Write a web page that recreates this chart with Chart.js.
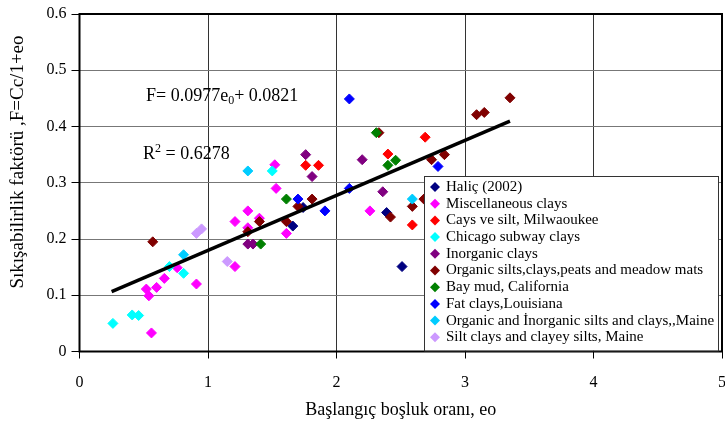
<!DOCTYPE html>
<html>
<head>
<meta charset="utf-8">
<script src="https://cdn.jsdelivr.net/npm/chart.js@4.4.1/dist/chart.umd.min.js"></script>
<style>
  html, body { margin: 0; padding: 0; background: #fff; }
  #wrap { width: 725px; height: 430px; }
</style>
</head>
<body>
<div id="wrap"><canvas id="eoChart" width="725" height="430"></canvas></div>
<script>
// [eo, F] pairs
const halic = [[1.66, 0.223], [1.74, 0.256], [2.39, 0.247], [2.51, 0.151]];
const miscClays = [[0.56, 0.033], [0.54, 0.099], [0.52, 0.111], [0.60, 0.114], [0.66, 0.130], [0.76, 0.149],
    [0.91, 0.120], [1.21, 0.151], [1.21, 0.231], [1.31, 0.220], [1.31, 0.250], [1.40, 0.237],
    [1.61, 0.210], [1.53, 0.290], [1.52, 0.332], [2.26, 0.250]];
const milwaukee = [[1.76, 0.331], [1.86, 0.331], [2.40, 0.351], [2.69, 0.381], [2.59, 0.225]];
const chicago = [[0.26, 0.050], [0.41, 0.065], [0.46, 0.064], [0.70, 0.151], [0.81, 0.139], [1.50, 0.321]];
const inorganic = [[1.31, 0.191], [1.35, 0.191], [1.76, 0.350], [1.81, 0.311], [2.20, 0.341], [2.36, 0.284]];
const organic = [[0.57, 0.195], [1.31, 0.213], [1.40, 0.231], [1.61, 0.231], [1.70, 0.258], [1.81, 0.271],
    [2.33, 0.389], [2.42, 0.239], [2.59, 0.258], [2.68, 0.271], [2.74, 0.341], [2.84, 0.350],
    [3.09, 0.421], [3.15, 0.425], [3.35, 0.451]];
const bayMud = [[1.41, 0.191], [1.61, 0.271], [2.31, 0.389], [2.40, 0.331], [2.46, 0.340]];
const fatClays = [[1.70, 0.271], [1.91, 0.250], [2.10, 0.290], [2.10, 0.449], [2.79, 0.329]];
const maineOrganic = [[0.81, 0.172], [1.31, 0.321], [2.59, 0.271]];
const maineSilt = [[0.91, 0.210], [0.95, 0.218], [1.15, 0.160]];

// trend line ends as drawn
const trendX = [0.25, 3.35];
const trendY = [0.1065, 0.4094];

const xTicks = [0, 1, 2, 3, 4, 5];
const yTicks = [0, 0.1, 0.2, 0.3, 0.4, 0.5, 0.6];

const seriesList = [
    { label: 'Haliç (2002)', data: halic, color: '#000080' },
    { label: 'Miscellaneous clays', data: miscClays, color: '#FF00FF' },
    { label: 'Cays ve silt, Milwaoukee', data: milwaukee, color: '#FF0000' },
    { label: 'Chicago subway clays', data: chicago, color: '#00FFFF' },
    { label: 'Inorganic clays', data: inorganic, color: '#800080' },
    { label: 'Organic silts,clays,peats and meadow mats', data: organic, color: '#800000' },
    { label: 'Bay mud, California', data: bayMud, color: '#008000' },
    { label: 'Fat clays,Louisiana', data: fatClays, color: '#0000FF' },
    { label: 'Organic and İnorganic silts and clays,,Maine', data: maineOrganic, color: '#00CCFF' },
    { label: 'Silt clays and clayey silts, Maine', data: maineSilt, color: '#CC99FF' }
];

const serif = "'Liberation Serif', 'DejaVu Serif', serif";

function diamond(ctx, x, y, r, color) {
    ctx.beginPath();
    ctx.moveTo(x, y - r);
    ctx.lineTo(x + r, y);
    ctx.lineTo(x, y + r);
    ctx.lineTo(x - r, y);
    ctx.closePath();
    ctx.fillStyle = color;
    ctx.fill();
}

// frame, legend box, equation and axis titles
const extrasPlugin = {
    id: 'extras',
    afterDraw(chart) {
        const ctx = chart.ctx;
        const a = chart.chartArea;
        ctx.save();

        ctx.strokeStyle = '#000';
        ctx.lineWidth = 2;
        ctx.strokeRect(a.left, a.top, a.right - a.left, a.bottom - a.top);

        // legend inside the plot
        const lx = 424, ly = 176, lw = 294, lh = a.bottom - ly - 1;
        ctx.fillStyle = '#fff';
        ctx.fillRect(lx, ly, lw, lh);
        ctx.lineWidth = 1;
        ctx.strokeStyle = '#333';
        ctx.strokeRect(lx + 0.5, ly + 0.5, lw, lh);
        ctx.font = '15px ' + serif;
        ctx.textBaseline = 'middle';
        ctx.textAlign = 'left';
        seriesList.forEach(function(s, i) {
            const yy = ly + 11 + i * 16.7;
            diamond(ctx, lx + 11, yy, 5, s.color);
            ctx.fillStyle = '#000';
            ctx.fillText(s.label, lx + 22, yy);
        });

        // regression text
        ctx.fillStyle = '#000';
        ctx.font = '18px ' + serif;
        let x = 146;
        const y1 = 96;
        ctx.fillText('F= 0.0977e', x, y1);
        x += ctx.measureText('F= 0.0977e').width;
        ctx.font = '12px ' + serif;
        ctx.fillText('0', x, y1 + 5);
        x += ctx.measureText('0').width;
        ctx.font = '18px ' + serif;
        ctx.fillText('+ 0.0821', x, y1);

        const y2 = 154;
        x = 143;
        ctx.fillText('R', x, y2);
        x += ctx.measureText('R').width;
        ctx.font = '12px ' + serif;
        ctx.fillText('2', x, y2 - 5);
        x += ctx.measureText('2').width;
        ctx.font = '18px ' + serif;
        ctx.fillText(' = 0.6278', x, y2);

        // axis titles
        ctx.textAlign = 'center';
        ctx.fillText('Başlangıç boşluk oranı, eo', (a.left + a.right) / 2, 410);
        ctx.font = '19px ' + serif;
        ctx.translate(18, 162);
        ctx.rotate(-Math.PI / 2);
        ctx.fillText('Sıkışabilirlik faktörü ,F=Cc/1+eo', 0, 0);
        ctx.restore();
    }
};

const datasets = seriesList.map(function(s, i) {
    return {
        label: s.label,
        data: s.data.map(function(p) { return { x: p[0], y: p[1] }; }),
        pointStyle: 'rectRot',
        pointRadius: 5,
        pointHoverRadius: 5,
        backgroundColor: s.color,
        borderColor: s.color,
        borderWidth: 1,
        showLine: false,
        order: seriesList.length - i + 1
    };
});

datasets.push({
    label: 'trend',
    type: 'line',
    data: trendX.map(function(v, i) { return { x: v, y: trendY[i] }; }),
    borderColor: '#000',
    borderWidth: 3.5,
    pointRadius: 0,
    fill: false,
    order: 0
});

new Chart(document.getElementById('eoChart'), {
    type: 'scatter',
    data: { datasets: datasets },
    options: {
        responsive: false,
        animation: false,
        devicePixelRatio: 1,
        layout: { autoPadding: false, padding: { top: 14, right: 3, left: 0, bottom: 0 } },
        plugins: { legend: { display: false }, tooltip: { enabled: false } },
        scales: {
            x: {
                type: 'linear',
                min: 0,
                max: 5,
                afterBuildTicks: function(axis) { axis.ticks = xTicks.map(function(v) { return { value: v }; }); },
                afterFit: function(axis) {
                    axis.height = 78.5;
                    axis.paddingLeft = 0;
                    axis.paddingRight = 0;
                },
                ticks: { color: '#000', font: { family: serif, size: 16 }, padding: 15 },
                grid: { color: '#333', lineWidth: 1, tickColor: '#000', tickLength: 7 },
                border: { display: false }
            },
            y: {
                min: 0,
                max: 0.6,
                afterBuildTicks: function(axis) { axis.ticks = yTicks.map(function(v) { return { value: v }; }); },
                afterFit: function(axis) {
                    axis.width = 79.5;
                    axis.paddingTop = 0;
                    axis.paddingBottom = 0;
                },
                ticks: {
                    color: '#000',
                    font: { family: serif, size: 16 },
                    padding: 5,
                    callback: function(value) { return value === 0 ? '0' : value.toFixed(1); }
                },
                grid: { color: '#777', lineWidth: 1, tickColor: '#000', tickLength: 8 },
                border: { display: false }
            }
        }
    },
    plugins: [extrasPlugin]
});
</script>
</body>
</html>
